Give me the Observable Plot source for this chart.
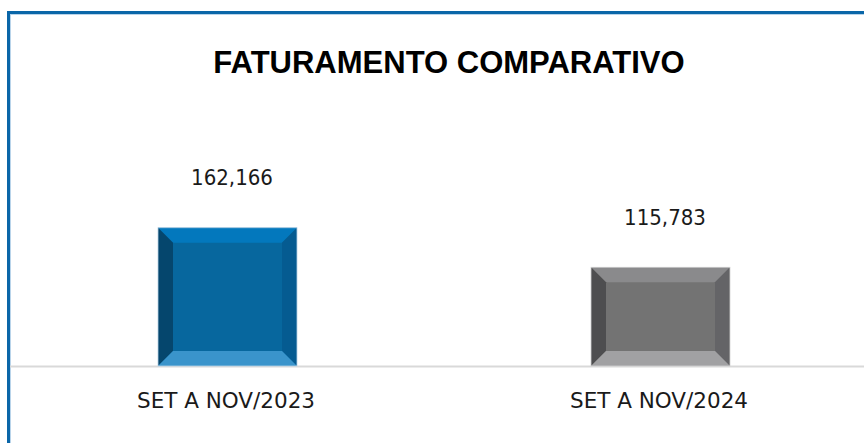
<!DOCTYPE html>
<html>
<head>
<meta charset="utf-8">
<script src="https://cdn.jsdelivr.net/npm/d3@7"></script>
<script src="https://cdn.jsdelivr.net/npm/@observablehq/plot@0.6"></script>
<style>
  html, body { margin: 0; padding: 0; background: #fff; overflow: hidden; }
  #wrap { position: relative; width: 864px; height: 443px; }
  #frame { position: absolute; left: 7px; top: 11px; right: -20px; bottom: -20px;
           border-left: 3px solid #0a66a8; border-top: 3px solid #0a66a8;
           box-shadow: inset 1px 1px 0 #b9d4ea; }
  #title { position: absolute; top: 48px; left: 0; width: 864px; box-sizing: border-box;
           padding-left: 34px; text-align: center; font: bold 31px "Liberation Sans", Arial, sans-serif;
           line-height: 30px; color: #000; }
  #chart { position: absolute; left: 0; top: 0; }
</style>
</head>
<body>
<div id="wrap">
  <div id="frame"></div>
  <div id="chart"></div>
  <div id="title">FATURAMENTO COMPARATIVO</div>
</div>
<script>
const categories = ["SET A NOV/2023", "SET A NOV/2024"];
const values = [162166, 115783];
const valueLabels = ["162,166", "115,783"];

const data = categories.map((c, i) => ({category: c, value: values[i], label: valueLabels[i]}));

// bevel shades per bar: [center, top, left, right, bottom, outline]
const shades = [
  ["#07679e", "#0378bd", "#05466d", "#055b91", "#3a94cb", "#b7d2e6"],
  ["#737373", "#8a8a8c", "#4e4e50", "#646467", "#a1a1a3", "#d3d3d3"]
];

const chart = Plot.plot({
  width: 864,
  height: 443,
  marginLeft: 27,
  marginRight: 4,
  marginTop: 100,
  marginBottom: 77,
  style: {fontFamily: "'DejaVu Sans', sans-serif", background: "transparent", overflow: "visible"},
  x: {domain: categories, paddingInner: 0.68, paddingOuter: 0.3, axis: null, label: null},
  y: {domain: [0, 312000], axis: null},
  color: {domain: categories, range: shades.map(s => s[0])},
  marks: [
    Plot.ruleY([0], {stroke: "#d9d9d9", strokeWidth: 2, insetLeft: -17, insetRight: -6}),
    Plot.barY(data, {x: "category", y: "value", fill: "category"}),
    Plot.text(data, {x: "category", y: "value", text: "label", dy: -50, dx: 4,
      fontSize: 22, fill: "#1a1a1a",
      fontFamily: "'DejaVu Sans Condensed', 'DejaVu Sans', sans-serif", fontStretch: "condensed"}),
    Plot.axisX({tickSize: 0, tickPadding: 26, fontSize: 21.5, fill: "#1a1a1a", dx: -2, label: null})
  ]
});
document.getElementById("chart").appendChild(chart);

// bevel faces, positioned from the plot's own scales
const sx = chart.scale("x"), sy = chart.scale("y");
const g = d3.select(chart).append("g");
const b = 15;
data.forEach((d, i) => {
  const s = shades[i];
  const x0 = sx.apply(d.category), x1 = x0 + sx.bandwidth;
  const y0 = sy.apply(d.value), y1 = sy.apply(0);
  const faces = [
    [s[1], [[x0, y0], [x1, y0], [x1 - b, y0 + b], [x0 + b, y0 + b]]],
    [s[2], [[x0, y0], [x0 + b, y0 + b], [x0 + b, y1 - b], [x0, y1]]],
    [s[3], [[x1, y0], [x1, y1], [x1 - b, y1 - b], [x1 - b, y0 + b]]],
    [s[4], [[x0, y1], [x0 + b, y1 - b], [x1 - b, y1 - b], [x1, y1]]]
  ];
  faces.forEach(([c, pts]) => {
    g.append("polygon").attr("points", pts.map(p => p.join(",")).join(" ")).attr("fill", c);
  });
  g.append("rect").attr("x", x0).attr("y", y0).attr("width", x1 - x0).attr("height", y1 - y0)
    .attr("fill", "none").attr("stroke", s[5]).attr("stroke-width", 0.8);
});
</script>
</body>
</html>
